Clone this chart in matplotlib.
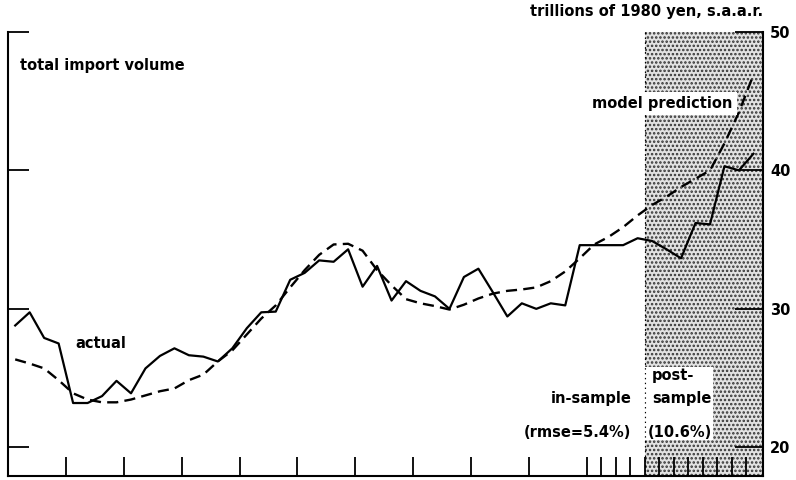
import numpy as np
import matplotlib.pyplot as plt
from matplotlib.patches import Rectangle

# quarterly observations, 1975Q1 - 1987Q4 (plotted at mid-quarter)
years = np.arange(1975, 1988)
quarters = np.array([y + (q + 0.5) / 4 for y in years for q in range(4)])

actual = [28.8, 29.75, 27.9, 27.5, 23.2, 23.2, 23.7, 24.8,
          23.9, 25.7, 26.6, 27.15, 26.65, 26.55, 26.2, 27.15,
          28.6, 29.75, 29.8, 32.1, 32.6, 33.5, 33.4, 34.3,
          31.6, 33.1, 30.6, 32.0, 31.3, 30.9, 30.0, 32.3,
          32.9, 31.2, 29.45, 30.4, 30.0, 30.4, 30.25, 34.6,
          34.6, 34.6, 34.6, 35.1, 34.9, 34.3, 33.65, 36.2,
          36.1, 40.3, 40.0, 41.2]
predicted = [26.35, 26.05, 25.7, 24.85, 23.9, 23.45, 23.25, 23.25,
             23.45, 23.75, 24.05, 24.25, 24.85, 25.25, 26.2, 27.0,
             28.15, 29.3, 30.25, 31.55, 32.8, 33.9, 34.65, 34.7,
             34.2, 32.8, 31.7, 30.7, 30.4, 30.2, 29.95, 30.3,
             30.75, 31.1, 31.3, 31.4, 31.55, 32.0, 32.7, 33.65,
             34.65, 35.2, 35.9, 36.75, 37.5, 38.1, 38.8, 39.4,
             40.0, 41.95, 44.2, 46.9]

post_start = 1986
y_ticks = [20, 30, 40, 50]
minor_ticks = [1985.25, 1985.5, 1985.75, 1986, 1986.25, 1986.5, 1986.75,
               1987, 1987.25, 1987.5, 1987.75]

plt.rcParams['font.family'] = 'DejaVu Sans'
plt.rcParams['lines.scale_dashes'] = False
plt.rcParams['hatch.linewidth'] = 1.2

fig = plt.figure(figsize=(7.96, 4.80), dpi=100)
ax = fig.add_axes([0.010, 0.0075, 0.9485, 0.926])

ax.set_xlim(1975, 1988.04)
ax.set_ylim(17.9, 50)

# post-sample period, stippled
ax.axvspan(post_start, 1988.04, facecolor='#e2e2e2', edgecolor='#333333',
           hatch='....', linewidth=0, zorder=0)
ax.axvline(post_start, color='black', linestyle=(0, (1, 2.5)), linewidth=0.8, zorder=1)

ax.plot(quarters, actual, color='black', linewidth=1.6, zorder=3)
ax.plot(quarters, predicted, color='black', linewidth=1.7,
        dashes=(8, 4.5), zorder=3)

ax.spines['top'].set_visible(False)
for s in ['left', 'right', 'bottom']:
    ax.spines[s].set_linewidth(1.5)

ax.set_xticks(list(range(1976, 1986)))
ax.set_xticks(minor_ticks, minor=True)
ax.tick_params(axis='x', which='both', direction='in', length=13.5, width=1.3,
               labelbottom=False)

ax.set_yticks(y_ticks)
ax.tick_params(axis='y', direction='in', length=15, width=1.3,
               left=True, right=True, labelleft=False, labelright=True,
               labelsize=10.5, pad=5)
# longer ticks on the right-hand scale
for t in ax.yaxis.get_major_ticks():
    t.tick2line.set_markersize(20)
    t.label2.set_fontweight('bold')

fs = 10.5
fw = 'bold'
ax.text(0.0165, 0.925, 'total import volume', transform=ax.transAxes,
        fontsize=fs, fontweight=fw, va='center', ha='left')
ax.text(1.0, 1.045, 'trillions of 1980 yen, s.a.a.r.', transform=ax.transAxes,
        fontsize=fs, fontweight=fw, va='center', ha='right')
ax.text(1976.16, 27.5, 'actual', fontsize=fs, fontweight=fw, va='center', ha='left')

ax.text(1987.52, 44.84, 'model prediction', fontsize=fs, fontweight=fw,
        va='center', ha='right', zorder=4,
        bbox=dict(facecolor='white', edgecolor='none', pad=3))
ax.text(1985.77, 23.54, 'in-sample', fontsize=fs, fontweight=fw, va='center', ha='right')
ax.text(1985.77, 21.08, '(rmse=5.4%)', fontsize=fs, fontweight=fw, va='center', ha='right')

# white panel behind the post-sample labels
ax.add_patch(Rectangle((post_start, 20.5), 1.18, 5.3, facecolor='white',
                       edgecolor='none', zorder=1.5))
ax.axvline(post_start, color='black', linestyle=(0, (1, 2.5)), linewidth=0.8, zorder=1.6)
ax.text(1986.12, 25.2, 'post-', fontsize=fs, fontweight=fw, va='center', ha='left', zorder=4)
ax.text(1986.12, 23.54, 'sample', fontsize=fs, fontweight=fw, va='center', ha='left', zorder=4)
ax.text(1986.05, 21.08, '(10.6%)', fontsize=fs, fontweight=fw, va='center', ha='left', zorder=4)

fig.savefig('out.png', dpi=100)
